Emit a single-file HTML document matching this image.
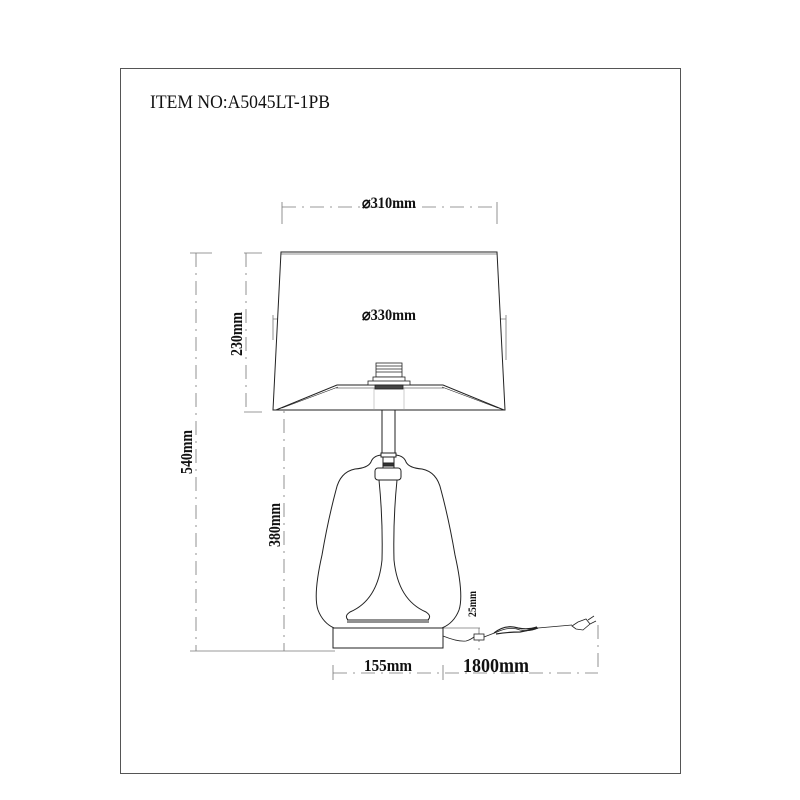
<!DOCTYPE html>
<html><head><meta charset="utf-8"><style>
html,body{margin:0;padding:0;background:#fff;}
svg{display:block}
text{font-family:"Liberation Serif",serif;fill:#111}
</style></head><body>
<svg width="800" height="800" viewBox="0 0 800 800" xmlns="http://www.w3.org/2000/svg">
<rect x="120.5" y="68.5" width="560" height="705" fill="none" stroke="#555" stroke-width="1"/>
<text x="150" y="108" font-size="19" textLength="180" lengthAdjust="spacingAndGlyphs">ITEM NO:A5045LT-1PB</text>

<g stroke="#777" stroke-width="0.8" fill="none" stroke-dasharray="14,6,2,6">
<line x1="282" y1="207" x2="497" y2="207"/>
<line x1="273" y1="319" x2="506" y2="319"/>
<line x1="288" y1="363" x2="356" y2="363"/>
<line x1="196" y1="253" x2="196" y2="651"/>
<line x1="246" y1="253" x2="246" y2="412"/>
<line x1="284" y1="363" x2="284" y2="651"/>
<line x1="333" y1="673" x2="598" y2="673"/>
<line x1="598" y1="625" x2="598" y2="673"/>
<line x1="479" y1="628" x2="479" y2="651"/>
</g>
<g stroke="#777" stroke-width="0.8" fill="none">
<line x1="282" y1="202" x2="282" y2="224"/><line x1="497" y1="202" x2="497" y2="224"/>
<line x1="273" y1="315" x2="273" y2="340"/><line x1="506" y1="315" x2="506" y2="360"/>
<line x1="190" y1="253" x2="212" y2="253"/><line x1="244" y1="253" x2="262" y2="253"/>
<line x1="244" y1="412" x2="262" y2="412"/><line x1="190" y1="651" x2="335" y2="651"/>
<line x1="282" y1="363" x2="292" y2="363"/>
<line x1="333" y1="665" x2="333" y2="680"/><line x1="443" y1="665" x2="443" y2="680"/>
<line x1="443" y1="628" x2="480" y2="628"/>
</g>

<g stroke="#222" stroke-width="1" fill="none">
<path d="M281 252 L497 252 L505 410 L273 410 Z" fill="#fff"/>
<line x1="281" y1="254" x2="497" y2="254" stroke-width="0.6"/>
<path d="M276 410 L337 385 L443 385 L504 410"/>
<path d="M282 408 L338 387 M498 408 L442 387" stroke-width="0.6"/>
<line x1="336" y1="388" x2="444" y2="388" stroke-width="0.5"/>
<line x1="374" y1="388" x2="374" y2="410" stroke-width="0.5" stroke="#999"/>
<line x1="404" y1="388" x2="404" y2="410" stroke-width="0.5" stroke="#999"/>
</g>
<g stroke="#222" stroke-width="0.8">
<rect x="376" y="363" width="26" height="14" fill="#fff"/>
<line x1="376" y1="366" x2="402" y2="366"/><line x1="376" y1="369" x2="402" y2="369"/><line x1="376" y1="372" x2="402" y2="372"/>
<rect x="373" y="377" width="32" height="5" fill="#fff"/>
<rect x="368" y="381" width="42" height="4" fill="#fff"/>
<rect x="375" y="385" width="28" height="4" fill="#444"/>
</g>
<g stroke="#222" stroke-width="1" fill="none">
<line x1="382" y1="410" x2="382" y2="453"/><line x1="395" y1="410" x2="395" y2="453"/>
<rect x="381" y="453" width="15" height="4" fill="#fff"/>
<line x1="383" y1="457" x2="383" y2="468"/><line x1="394" y1="457" x2="394" y2="468"/>
<rect x="383" y="463" width="11" height="3" fill="#333"/>
<!-- glass -->
<path d="M381 455 Q373 456 371 462 Q368 468 355 469 Q340 472 336 490 Q328 520 322 555 Q313 595 318 610 Q323 623 334 628"/>
<path d="M396 455 Q404 456 406 462 Q409 468 422 469 Q437 472 441 490 Q449 520 455 555 Q464 595 459 610 Q454 623 442 628"/>
<!-- inner column -->
<rect x="375" y="468" width="26" height="12" rx="3" fill="#fff"/>
<path d="M379 480 Q383 520 382 560 Q378 600 350 612 Q344 616 348 620 M397 480 Q393 520 394 560 Q398 600 426 612 Q432 616 428 620"/>
<line x1="347" y1="620" x2="429" y2="620"/>
<line x1="347" y1="622" x2="429" y2="622"/>
<rect x="333" y="628" width="110" height="20" fill="#fff"/>
<path d="M443 636 Q458 642 466 641 Q470 640 474 637" stroke-width="0.8"/>
<rect x="474" y="634" width="10" height="6" fill="#fff" stroke-width="0.8"/>
<path d="M484 637 L497 632 Q510 626 520 630 Q530 632 538 628 L572 625" stroke-width="0.8"/>
<path d="M494 633 Q505 624 518 628 Q528 630 537 627 M496 634 Q508 632 520 632 Q530 630 538 628" stroke-width="1.2"/>
<path d="M572 626 L578 622 L586 619 L590 624 L583 630 L576 629 Z" fill="#fff" stroke-width="0.8"/>
<line x1="588" y1="620" x2="594" y2="616" stroke-width="0.8"/><line x1="590" y1="624" x2="596" y2="621" stroke-width="0.8"/>
</g>

<g font-weight="bold">
<text x="389" y="208" font-size="16" text-anchor="middle" textLength="54" lengthAdjust="spacingAndGlyphs">⌀310mm</text>
<text x="389" y="320" font-size="16" text-anchor="middle" textLength="54" lengthAdjust="spacingAndGlyphs">⌀330mm</text>
<text transform="translate(246 334) rotate(-90)" font-size="17" text-anchor="middle" x="0" y="-4" textLength="44" lengthAdjust="spacingAndGlyphs">230mm</text>
<text transform="translate(196 452) rotate(-90)" font-size="17" text-anchor="middle" x="0" y="-4" textLength="44" lengthAdjust="spacingAndGlyphs">540mm</text>
<text transform="translate(284 525) rotate(-90)" font-size="17" text-anchor="middle" x="0" y="-4" textLength="44" lengthAdjust="spacingAndGlyphs">380mm</text>
<text transform="translate(479 604) rotate(-90)" font-size="12" text-anchor="middle" x="0" y="-3" textLength="26" lengthAdjust="spacingAndGlyphs">25mm</text>
<text x="388" y="671" font-size="17" text-anchor="middle" textLength="48" lengthAdjust="spacingAndGlyphs">155mm</text>
<text x="496" y="672" font-size="20" text-anchor="middle" textLength="66" lengthAdjust="spacingAndGlyphs">1800mm</text>
</g>
</svg>
</body></html>
